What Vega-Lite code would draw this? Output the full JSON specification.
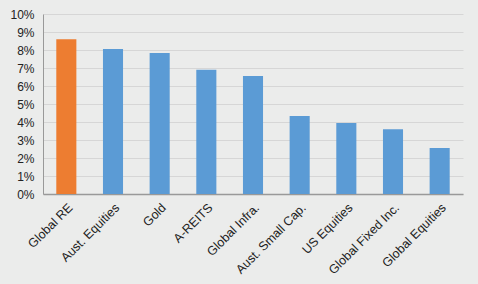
{
  "$schema": "https://vega.github.io/schema/vega-lite/v6.json",
  "width": 420,
  "height": 180,
  "autosize": {"type": "none"},
  "padding": {"left": 43, "top": 14, "right": 15, "bottom": 90},
  "background": "#ebeceb",
  "config": {"view": {"stroke": null}, "font": "Liberation Sans"},
  "data": {"values": [
    {"asset": "Global RE", "ret": 0.086, "hl": "y"},
    {"asset": "Aust. Equities", "ret": 0.0805, "hl": "n"},
    {"asset": "Gold", "ret": 0.0783, "hl": "n"},
    {"asset": "A-REITS", "ret": 0.069, "hl": "n"},
    {"asset": "Global Infra.", "ret": 0.0655, "hl": "n"},
    {"asset": "Aust. Small Cap.", "ret": 0.0433, "hl": "n"},
    {"asset": "US Equities", "ret": 0.0394, "hl": "n"},
    {"asset": "Global Fixed Inc.", "ret": 0.036, "hl": "n"},
    {"asset": "Global Equities", "ret": 0.0255, "hl": "n"}
  ]},
  "mark": {"type": "bar"},
  "encoding": {
    "x": {"field": "asset", "type": "nominal", "sort": null,
      "scale": {"paddingInner": 0.57, "paddingOuter": 0.285},
      "axis": {"title": null, "labelAngle": -45, "labelFontSize": 12.5, "labelColor": "#222", "ticks": false, "domainColor": "#999", "domainWidth": 1.5, "labelPadding": 7}},
    "y": {"field": "ret", "type": "quantitative",
      "scale": {"domain": [0, 0.1]},
      "axis": {"title": null, "format": ".0%", "values": [0,0.01,0.02,0.03,0.04,0.05,0.06,0.07,0.08,0.09,0.1], "labelFontSize": 12, "labelColor": "#222", "ticks": false, "domainColor": "#999", "gridColor": "#d6d6d6", "labelPadding": 9}},
    "color": {"field": "hl", "type": "nominal", "scale": {"domain": ["y","n"], "range": ["#ed7d31", "#5b9bd5"]}, "legend": null}
  }
}
